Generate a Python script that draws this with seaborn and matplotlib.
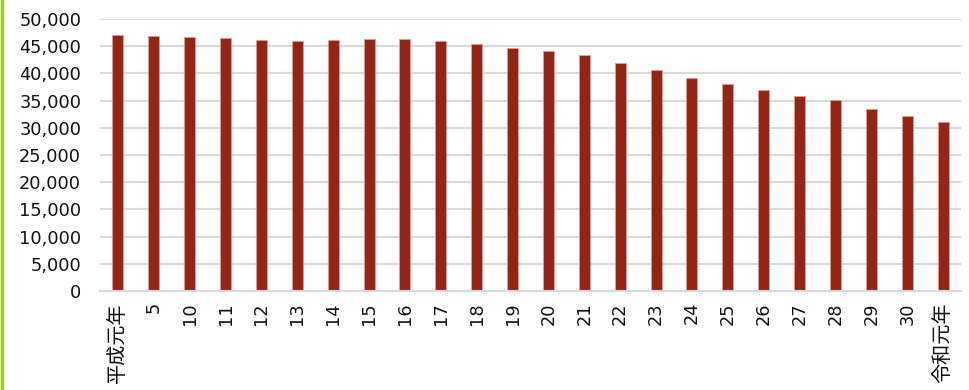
import matplotlib
matplotlib.use("Agg")
import matplotlib.pyplot as plt
import seaborn as sns
import pandas as pd
from matplotlib.ticker import FuncFormatter, MultipleLocator
from matplotlib.lines import Line2D

categories = ["平成元年", "5", "10", "11", "12", "13", "14", "15", "16", "17", "18", "19",
              "20", "21", "22", "23", "24", "25", "26", "27", "28", "29", "30", "令和元年"]
values = [47100, 46800, 46650, 46570, 46130, 46020, 46200, 46390, 46260, 45890, 45400, 44660,
          44180, 43320, 41850, 40560, 39220, 37990, 36890, 35790, 35110, 33520, 32240, 31060]

df = pd.DataFrame({"cat": categories, "val": values})

sns.set_theme(style="white")
plt.rcParams['font.family'] = ['DejaVu Sans', 'Noto Sans CJK JP']

fig = plt.figure(figsize=(9.69, 3.9), dpi=100)
ax = fig.add_axes([100/969, 1 - 291/390, 861/969, 272/390])

sns.barplot(data=df, x="cat", y="val", color="#922516", width=0.31, ax=ax,
            edgecolor="#d9a09a", linewidth=0.6, saturation=1)

ax.set_ylim(0, 50000)
ax.set_xlim(-0.5, len(categories) - 0.5)
ax.yaxis.set_major_locator(MultipleLocator(5000))
ax.yaxis.set_major_formatter(FuncFormatter(lambda v, p: f"{int(v):,}"))
ax.grid(axis="y", color="#d9d9d9", linewidth=1.5)
ax.set_axisbelow(True)
for s in ["top", "right", "left"]:
    ax.spines[s].set_visible(False)
ax.spines["bottom"].set_color("#d9d9d9")
ax.spines["bottom"].set_linewidth(1.5)
ax.set_xlabel("")
ax.set_ylabel("")
ax.tick_params(axis="both", length=0, labelsize=12.8, colors="#111111")
ax.tick_params(axis="y", pad=13.5)
ax.tick_params(axis="x", pad=8)
for lbl in ax.get_xticklabels():
    lbl.set_rotation(90)
    if not lbl.get_text().isdigit():
        lbl.set_family(['Noto Sans CJK JP', 'DejaVu Sans'])
        lbl.set_fontsize(14.5)

fig.add_artist(Line2D([1.5/969, 1.5/969], [0, 1], color="#9acd32", linewidth=2.5,
                      transform=fig.transFigure))

fig.savefig("out.png", dpi=100)
